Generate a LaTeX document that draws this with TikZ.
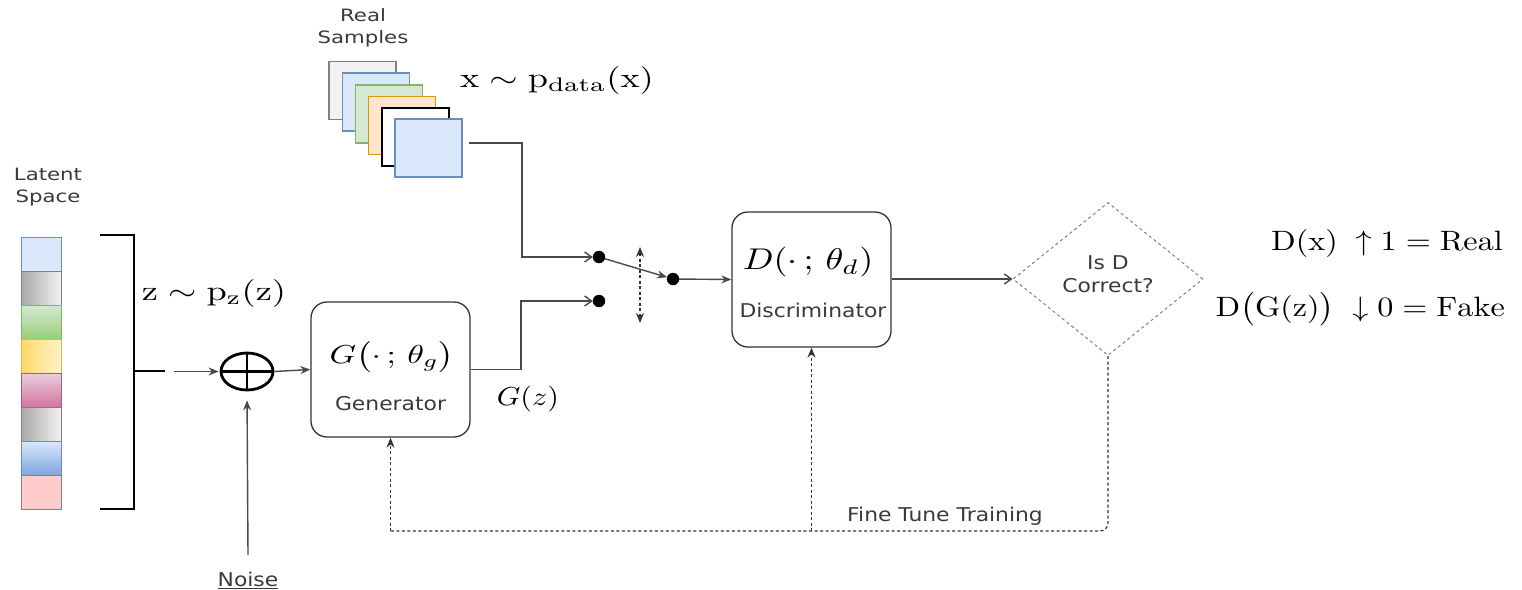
\documentclass[tikz,border=0pt]{standalone}
\usepackage{fontspec}
\newfontfamily\dvs{DejaVu Sans}
\usetikzlibrary{shapes.geometric,arrows.meta}
\definecolor{lc}{HTML}{4A4A4A}
\definecolor{txc}{HTML}{3A3A3A}
\definecolor{dc}{HTML}{333333}
\definecolor{bluF}{HTML}{DAE8FC}
\definecolor{bluD}{HTML}{6C8EBF}
\definecolor{bluB}{HTML}{7EA6E0}
\definecolor{grnF}{HTML}{D5E8D4}
\definecolor{grnB}{HTML}{97D077}
\definecolor{grnD}{HTML}{82B366}
\definecolor{yelL}{HTML}{FFD966}
\definecolor{yelR}{HTML}{FFF2CC}
\definecolor{yelD}{HTML}{D6B656}
\definecolor{pnkT}{HTML}{E6D0DE}
\definecolor{pnkB}{HTML}{D5739D}
\definecolor{pnkD}{HTML}{996185}
\definecolor{redF}{HTML}{FFCCCC}
\definecolor{orgF}{HTML}{FFE6CC}
\definecolor{orgD}{HTML}{D79B00}
\definecolor{gryL}{HTML}{A8A8A8}
\definecolor{gryR}{HTML}{F2F2F2}
\newcommand\hsA[1]{\scalebox{1.15}[1]{#1}}
\newcommand\hsB[1]{\scalebox{1.25}[1]{#1}}
\newcommand\hsM[3]{\scalebox{#1}[#2]{#3}}
\begin{document}
\begin{tikzpicture}[x=1pt,y=-1pt,
  conn/.style={draw=lc, line width=1.4pt},
  fb/.style={draw=dc, line width=1.2pt, dash pattern=on 3pt off 2.5pt},
  tipF/.tip={Stealth[length=10pt,width=8pt]},
  tipO/.tip={Straight Barb[length=7pt,width=10pt]},
  cell/.style={draw=#1, minimum width=40pt, minimum height=34pt, inner sep=0pt, line width=0.8pt},
  sample/.style={draw=#1, minimum width=67pt, minimum height=58pt, inner sep=0pt, line width=1.1pt},
  blk/.style={draw=dc, line width=1.3pt, rounded corners=16pt, minimum width=159pt, minimum height=135pt, fill=white, inner sep=0pt},
  lab/.style={font=\dvs\fontsize{19}{22}\selectfont, text=txc, inner sep=0pt, align=center},
  labs/.style={font=\dvs\fontsize{17}{22}\selectfont, text=txc, inner sep=0pt, align=center},
  mth/.style={text=black, inner sep=0pt},
  dot/.style={circle, fill=black, draw=black, minimum size=12pt, inner sep=0pt}
]
\useasboundingbox[fill=white] (0,0) rectangle (1522,589);

% ---- Latent space column
\node[labs] (latlab) at (48,187) {\hsB{Latent}\\\hsB{Space}};
\node[cell=bluD, fill=bluF] (c1) at (41,254) {};
\node[cell=gray, left color=gryL, right color=gryR] (c2) at (41,288) {};
\node[cell=grnD, top color=grnF, bottom color=grnB] (c3) at (41,322) {};
\node[cell=yelD, left color=yelL, right color=yelR] (c4) at (41,356) {};
\node[cell=pnkD, top color=pnkT, bottom color=pnkB] (c5) at (41,390) {};
\node[cell=gray, left color=gryL, right color=gryR] (c6) at (41,424) {};
\node[cell=bluD, top color=bluF, bottom color=bluB] (c7) at (41,458) {};
\node[cell=gray, fill=redF] (c8) at (41,492) {};

% ---- bracket
\coordinate (brT) at (100,235);
\coordinate (brB) at (100,509);
\coordinate (brM) at (134,371);
\coordinate (brE) at (165,371);
\draw[line width=1.9pt, black] (brT) -| (134,509) -- (brB);
\draw[line width=1.9pt, black] (brM) -- (brE);
\node[mth] (zlab) at (214,293) {\hsM{3.64}{2.8}{$\mathrm{z}\sim\mathrm{p_z}(\mathrm{z})$}};

% ---- oplus
\node[ellipse, draw=black, line width=2.8pt, minimum width=52pt, minimum height=37pt, inner sep=0pt] (op) at (247,371.5) {};
\draw[line width=2.8pt] (op.north) -- (op.south);
\draw[line width=2.8pt] (op.west) -- (op.east);
\coordinate (za) at (174,371.5);
\draw[conn, -tipF, shorten >=1pt] (za) -- (op.west);

% ---- noise
\node[lab] (noise) at (248,580) {\hsA{\underline{Noise}}};
\coordinate (nz) at (248,555);
\draw[conn, -tipF, shorten >=9pt] (nz) -- (op.south);

% ---- generator
\node[blk] (gen) at (390.5,369.5) {};
\node[mth] (gmath) at (392,357) {\hsM{3.38}{2.6}{$G\bigl(\cdot\,;\,\theta_g\bigr)$}};
\node[lab] (genlab) at (390.5,404) {\hsA{Generator}};
\draw[conn, -tipF] (op.east) -- (gen.west);
\node[mth] (gz) at (528,399) {\hsM{3.0}{2.6}{$G(z)$}};

% ---- real samples
\node[labs] (rslab) at (363,28) {\hsB{Real}\\\hsB{Samples}};
\node[sample=gray, fill=gryR] (s1) at (362.5,90.5) {};
\node[sample=bluD, fill=bluF] (s2) at (376,102) {};
\node[sample=grnD, fill=grnF] (s3) at (389,114) {};
\node[sample=orgD, fill=orgF] (s4) at (402,125.5) {};
\node[sample=black, fill=white] (s5) at (415.5,137) {};
\node[sample=bluD, fill=bluF] (s6) at (428.5,148) {};
\node[mth] (xlab) at (557,80) {\hsM{3.64}{2.8}{$\mathrm{x}\sim\mathrm{p_{data}}(\mathrm{x})$}};

% ---- switch
\node[dot] (d1) at (599,257) {};
\node[dot] (d2) at (599,301) {};
\node[dot] (d3) at (673,279) {};
\coordinate (rs) at (469,143);
\draw[conn, -tipO] (rs) -- (522,143) |- (d1.west);
\draw[conn, -tipO] (gen.east) -- (521,369.5) |- (d2.west);
\draw[conn, -tipF] (d1) -- (d3);
\coordinate (swT) at (640,247);
\coordinate (swB) at (640,323);
\draw[fb, tipF-tipF] (swT) -- (swB);

% ---- discriminator
\node[blk] (disc) at (811.5,279.5) {};
\node[mth] (dmath) at (808,262) {\hsM{3.6}{3.0}{$D(\cdot\,;\,\theta_d)$}};
\node[lab] (disclab) at (813,310) {\hsA{Discriminator}};
\draw[conn, -tipF] (d3) -- (disc.west);

% ---- decision
\node[diamond, draw=gray, line width=1pt, dash pattern=on 3pt off 3pt, minimum width=190pt, minimum height=153pt, inner sep=0pt] (dia) at (1108,279) {};
\node[lab] (dialab) at (1108,274) {\hsA{Is D}\\[1pt]\hsA{Correct?}};
\draw[conn, -tipO] (disc.east |- dia.west) -- (dia.west);

% ---- feedback
\coordinate (fbL) at (390.5,531);
\draw[fb, rounded corners=8pt] (dia.south) |- (fbL);
\draw[fb, -tipF] (fbL) -- (gen.south);
\draw[fb, -tipF] (disc.south |- fbL) -- (disc.south);
\node[lab] (ftlab) at (945,516) {\hsA{Fine Tune Training}};

% ---- outputs
\node[mth, anchor=east] (real) at (1503,243) {\hsM{3.22}{2.8}{$\mathrm{D}(\mathrm{x})\;\uparrow 1=\mathrm{Real}$}};
\node[mth, anchor=east] (fake) at (1505,309) {\hsM{3.22}{2.8}{$\mathrm{D}\bigl(\mathrm{G}(\mathrm{z})\bigr)\;\downarrow 0=\mathrm{Fake}$}};
\end{tikzpicture}
\end{document}
